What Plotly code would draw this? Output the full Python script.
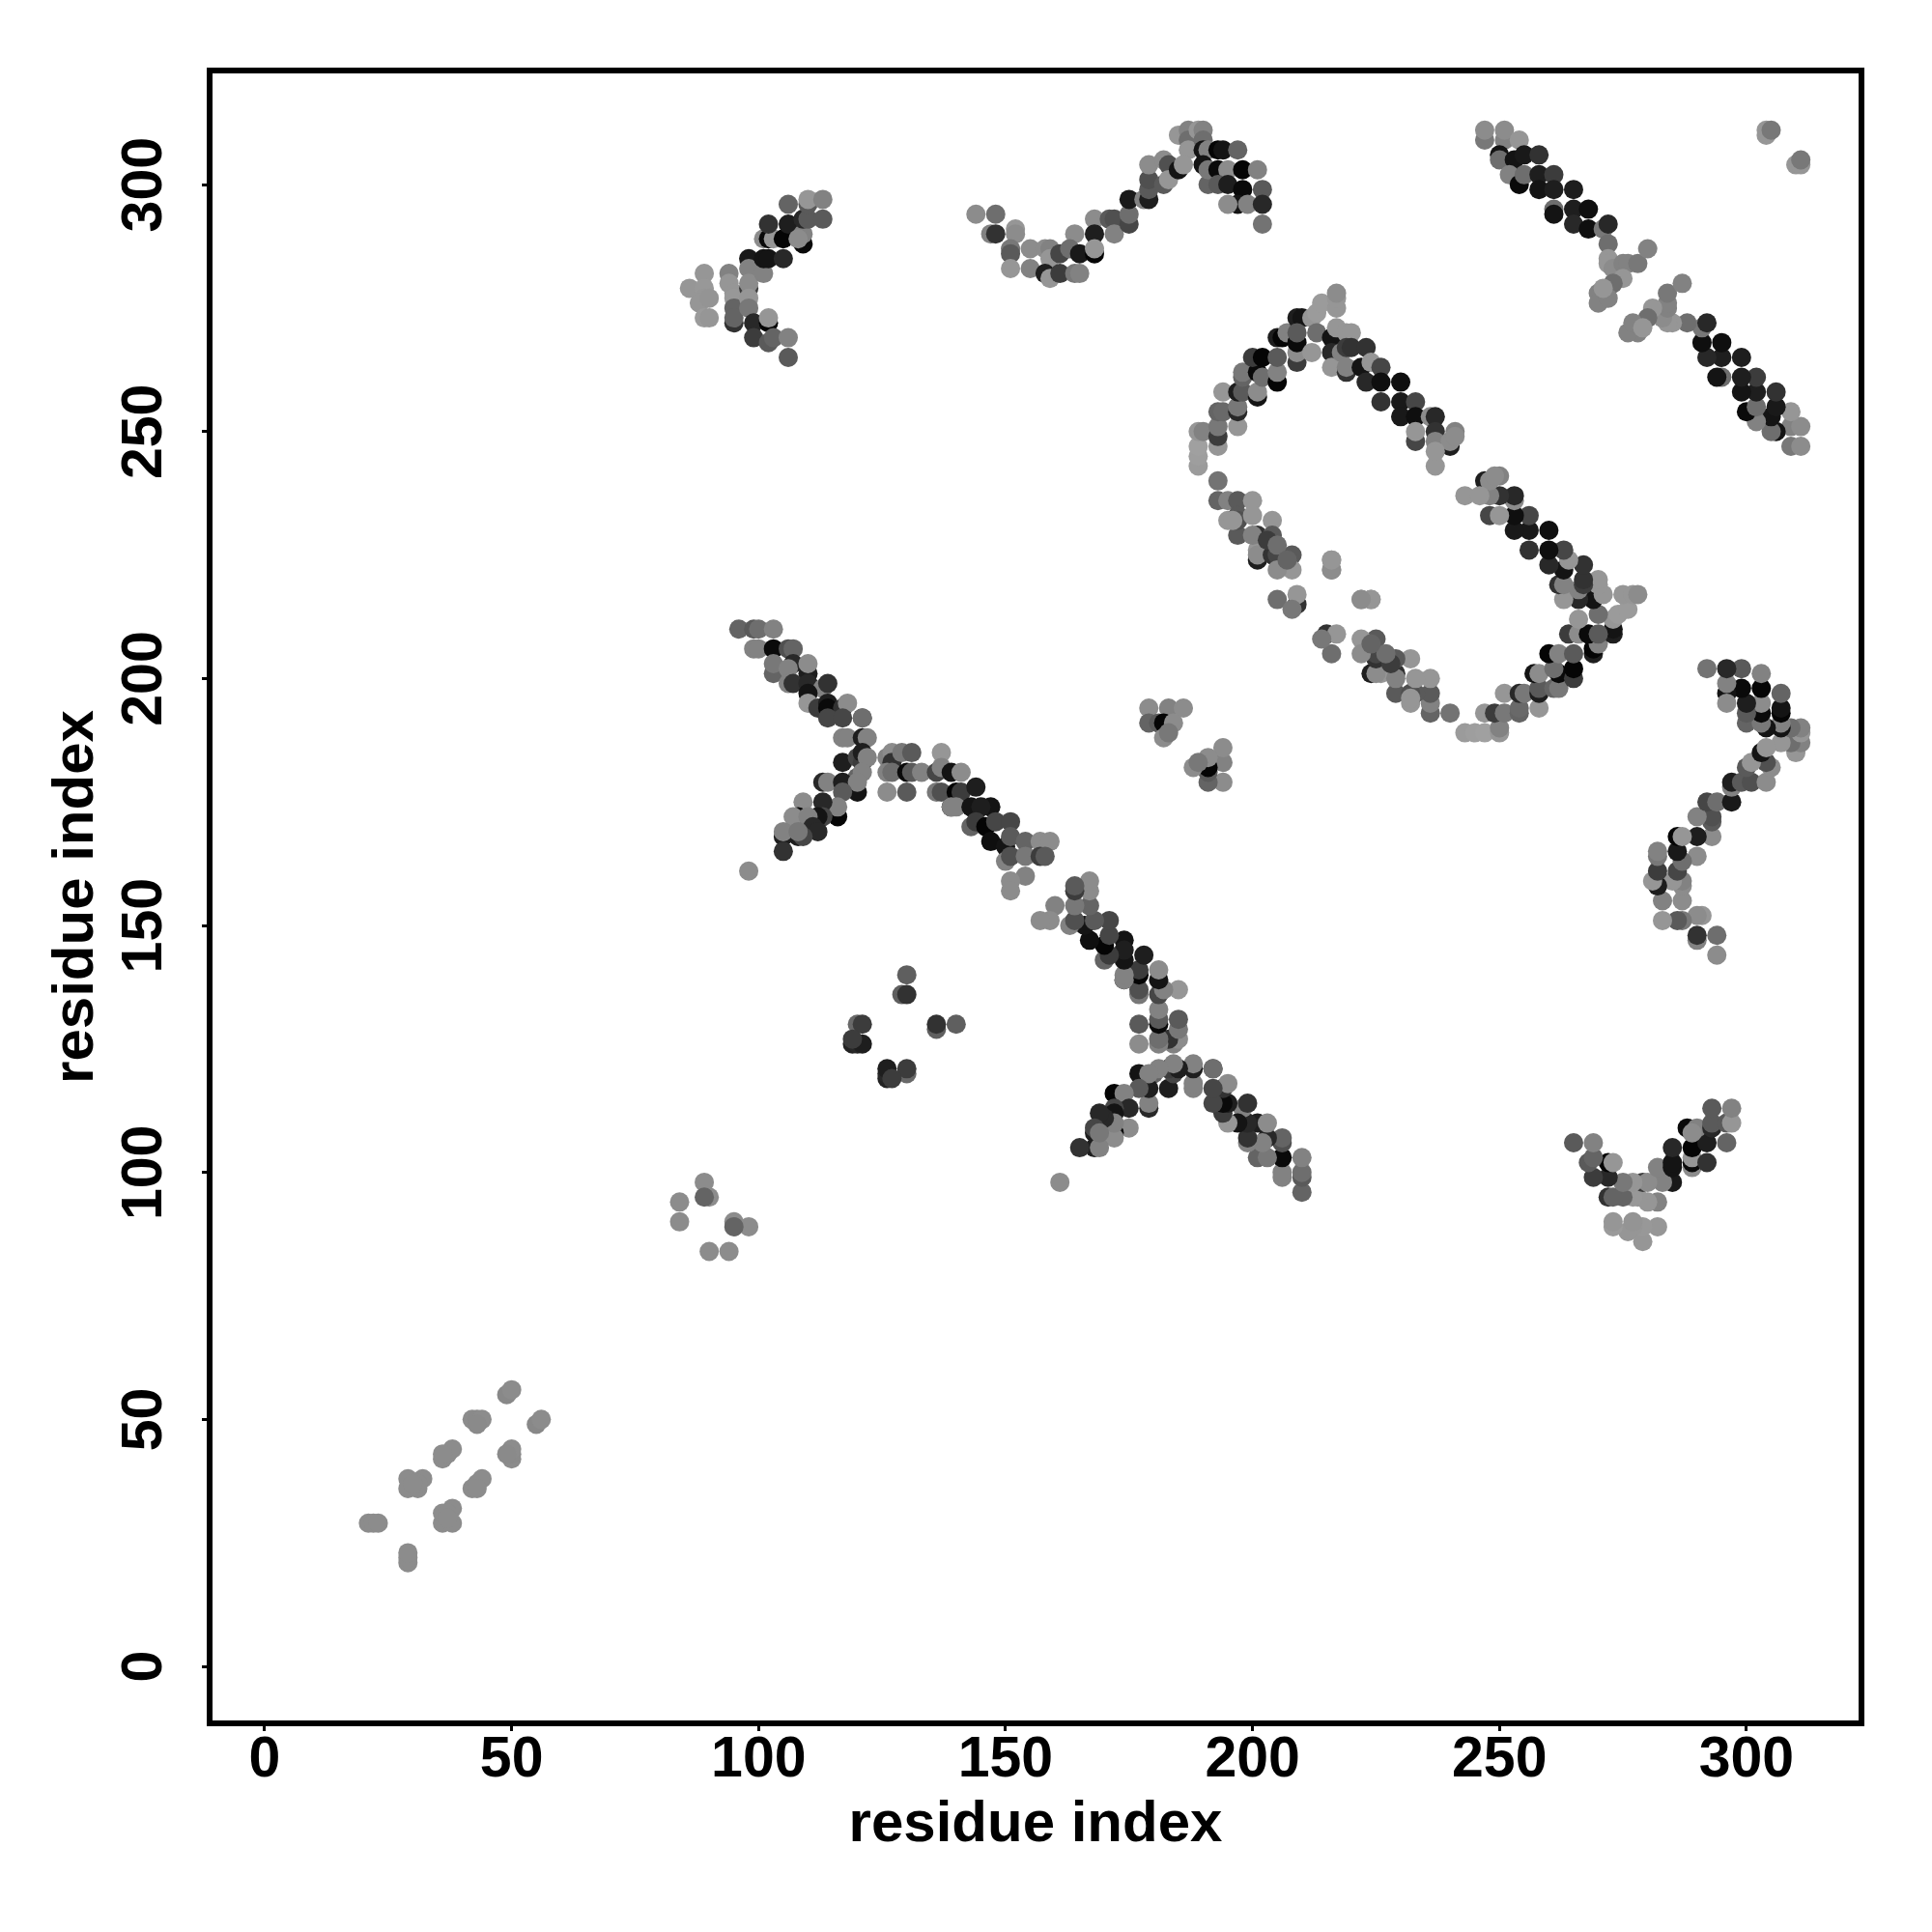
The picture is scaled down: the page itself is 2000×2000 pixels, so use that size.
import plotly.graph_objects as go

strand_near_n = [(21,29,140),(22,29,140),(23,29,140),(29,36,140),(31,36,140),(29,38,140),(32,38,140),(31,37,140),(30,37,140),
    (36,42,140),(37,43,140),(38,44,140),(36,43,140),(42,50,140),(43,50,138),(44,50,140),(43,49,138),(49,55,136),(50,56,140)]
small_a = [(84,94,140),(84,90,140),(89,98,140),(90,95,140),(89,95,100)]
small_b = [(130,140,95),(129,136,95),(130,136,50),(120,130,105),(121,130,60),(119,126,35),(120,126,40),(121,126,30),(119,127,60)]
small_c = [(179,194,140),(183,194,130),(186,194,140),(179,191,100),(181,191,90),(182,191,5),(184,191,140),(182,188,140),(183,189,120)]
band_top = [(96,210,100),(99,210,90),(100,210,110),(103,210,130),(99,206,130),(100,206,130),(103,206,10),(106,206,80),(107,206,100),
    (103,201,100),(103,203,120),(107,203,40),(106,202,130),(110,201,30),(110,203,140),(106,199,130),(107,199,50),(110,199,40),(113,198,130),
    (114,199,50),(110,197,20),(110,195,150),(112,194,60),(114,195,30),(114,194,10),(117,194,50),(118,195,140),
    (114,192,70),(117,192,70),(121,192,90),(121,192,110),(117,188,130),(118,188,130),(121,188,30),(122,188,130),
    (117,183,30),(120,184,70),(121,183,60),(121,185,30),(122,184,130),(120,180,100),(121,181,130)]
branch = [(113,179,40),(114,179,130),(117,179,30),(120,177,20),(120,179,130),(117,177,90),(116,172,5),(116,174,130),(113,175,40),(113,172,70),
    (112,172,20),(109,175,140),(108,172,10),(107,172,140),(110,172,130),(111,170,40),(112,169,40),(108,168,30),(109,168,70),(105,168,30),(105,169,130),(108,169,120),(105,165,50),(98,161,140)]
band_mid = [(126,184,130),(127,185,140),(127,183,50),(129,185,120),(131,185,90),(126,181,130),(127,181,110),(130,181,10),(131,181,90),(133,181,130),
    (126,177,140),(130,177,90),(137,185,150),(136,181,70),(137,182,130),(139,181,20),(141,181,140),(136,177,120),(137,177,80),(140,177,5),(141,177,60),(144,178,30),
    (139,174,10),(139,174,130),(140,174,130),(143,174,20),(147,174,20),(145,174,30),(143,170,100),(144,171,60),(146,170,5),(148,171,70),(151,171,70),
    (147,167,15),(150,166,20),(151,168,90),(154,167,100),(157,167,140),(159,167,140),(150,163,130),(151,164,80),(154,164,120),(157,164,60),(158,164,90),
    (154,160,130),(151,159,140),(151,157,140)]
cluster_nw = [(86,279,150),(89,282,150),(89,279,152),(89,277,150),(88,276,150),(90,277,148),(89,273,155),(90,273,150),(94,282,130),(94,280,150),
    (95,278,150),(95,277,152),(95,275,100),(95,272,50),(95,273,100),(98,285,25),(98,283,130),(98,279,60),(98,280,140),(98,277,150),(98,275,120),
    (99,272,40),(102,272,5),(102,273,150),(99,269,60),(102,268,90),(103,269,100),(106,269,130),(106,265,90),(101,282,130),(101,285,20),(102,285,20),(105,285,40),
    (101,289,140),(102,289,10),(103,289,150),(105,289,5),(102,292,50),(106,292,30),(109,288,10),(109,290,130),(108,289,140),(109,293,40),(110,293,90),(113,293,90),(106,296,100),(110,296,90),(110,297,150),(113,297,130)]
wave_top = [(144,294,140),(148,294,110),(147,290,130),(148,290,50),(152,291,150),(152,290,140),(151,287,120),(151,286,90),(151,283,150),
    (155,287,140),(155,283,130),(158,287,140),(159,287,130),(159,285,150),(158,282,30),(159,281,150),(161,286,70),(161,282,60),
    (164,290,140),(163,287,110),(165,286,25),(164,282,120),(165,282,130),(168,293,140),(168,290,30),(168,286,5),(168,287,150),(171,293,90),(172,293,80),(172,290,130),
    (175,292,70),(175,294,110),(175,297,25),(178,297,130),(179,297,30),(179,299,90),(179,301,80),(179,304,140),(182,305,140),(183,304,80),(182,300,90),(183,301,150),
    (185,303,20),(185,310,150),(187,311,130),(187,309,110),(187,307,150),(186,304,150),(189,311,150),(190,311,130),(190,309,110),(190,307,20),(191,307,130),(190,304,20),(191,300,100),(191,303,120),
    (193,307,5),(194,307,20),(197,307,100),(193,303,10),(195,303,140),(198,303,5),(201,303,130),(193,300,90),(195,300,30),(198,299,10),(202,299,90),(197,296,20),(195,296,140),(199,296,130),(202,296,40),(202,292,115)]
arm_up = [(189,243,155),(189,245,158),(189,247,160),(193,247,150),(189,250,150),(190,250,130),(193,249,60),(193,251,120),(197,251,150),(193,254,100),(194,254,105),(197,254,40),(197,255,120),
    (194,258,150),(197,258,30),(198,258,90),(201,257,20),(201,258,140),(198,261,100),(198,262,120),(201,262,10),(202,261,110),(205,260,5),(205,262,130),(200,265,60),(202,265,5),(205,265,90),(205,269,30),(206,269,5),(207,270,130),
    (209,264,60),(209,266,140),(209,273,30),(210,273,20),(209,268,10),(209,270,90),(212,266,150),(212,273,150),(213,270,110),(213,274,155),(214,276,155),(217,275,150),(217,277,150),(217,278,140)]
arm_right = [(216,269,20),(217,271,150),(219,270,150),(220,270,150),(216,266,40),(216,263,150),(218,266,130),(219,267,60),(220,267,50),(223,267,50),(219,262,50),(219,263,130),(222,263,20),(224,264,150),(226,263,70),
    (223,260,40),(226,260,15),(230,260,15),(226,256,50),(230,256,25),(233,256,70),(230,253,25),(233,253,15),(236,253,140),(237,253,40),(233,248,70),(233,250,150),(237,250,50),(237,248,130),(240,247,30),(240,248,140),
    (241,250,130),(241,249,140),(237,243,150),(237,246,150)]
arm_low = [(193,240,115),(193,236,100),(195,236,130),(197,236,90),(200,236,150),(195,232,150),(197,233,90),(197,229,90),(197,232,80),(196,232,150),(200,233,150),(204,232,150),(201,229,50),(204,229,90),
    (201,224,30),(201,226,150),(201,225,140),(204,225,50),(205,225,70),(208,225,90),(208,222,150),(205,222,140),(200,229,130),(203,228,60),(205,227,110),(207,224,100),(216,224,150),(216,222,140),(205,216,110),(209,215,50),(209,217,150),(208,214,120),(222,216,140),(224,216,150)]
band_far = [(247,309,120),(247,311,140),(251,309,130),(251,311,140),(254,309,150),(250,306,20),(250,305,110),(253,305,20),(255,306,25),(258,306,50),(252,302,130),(254,300,10),(255,302,110),(258,302,30),(261,302,60),
    (258,299,20),(261,299,30),(265,299,30),(261,295,110),(261,294,20),(265,295,30),(268,295,15),(265,292,40),(268,291,15),(271,291,120),(272,292,40),(272,288,110),
    (272,285,150),(272,284,150),(273,283,140),(275,284,130),(276,284,130),(278,284,120),(280,287,130),(275,281,150),(273,280,110),(270,278,130),(270,276,130),(272,277,130),(271,279,150),(304,310,150),(304,311,150),(305,311,120)]

regions = [strand_near_n, small_a, small_b, small_c, band_top, branch, band_mid, cluster_nw, wave_top, arm_up, arm_right, arm_low, band_far]
tick_values = [0, 50, 100, 150, 200, 250, 300]
axis_label = "residue index"

res_i, res_j, shade = [], [], []
for region in regions:
    for i, j, g in region:
        res_i.append(i); res_j.append(j); shade.append(g)

colors = [f"rgb({g},{g},{g})" for g in shade]
fig = go.Figure()
for xs, ys in ((res_i, res_j), (res_j, res_i)):
    fig.add_trace(go.Scatter(x=xs, y=ys, mode="markers", showlegend=False, cliponaxis=True,
                             marker=dict(size=20, color=colors, line=dict(width=0))))

tick_font = dict(family="Liberation Sans", size=59, color="black", weight="bold")
title_font = dict(family="Liberation Sans", size=60, color="black", weight="bold")
common = dict(tickvals=tick_values, ticktext=[str(t) for t in tick_values], showgrid=False, zeroline=False,
              showline=True, linecolor="black", linewidth=6, mirror=True, ticks="outside", ticklen=5, tickwidth=3,
              tickcolor="black", tickfont=tick_font)
fig.update_xaxes(range=[-10.56, 322.7], ticklabelstandoff=-24, automargin=True, title=dict(text=axis_label, font=title_font, standoff=14), **common)
fig.update_yaxes(range=[-10.95, 322.5], tickangle=-90, ticklabelstandoff=18, ticklabelshift=9, title=dict(text=axis_label, font=title_font, standoff=0), **common)
fig.update_layout(width=2000, height=2000, autosize=False, paper_bgcolor="white", plot_bgcolor="white",
                  margin=dict(l=212, r=84, t=68, b=227))
fig.write_html("out.html")
